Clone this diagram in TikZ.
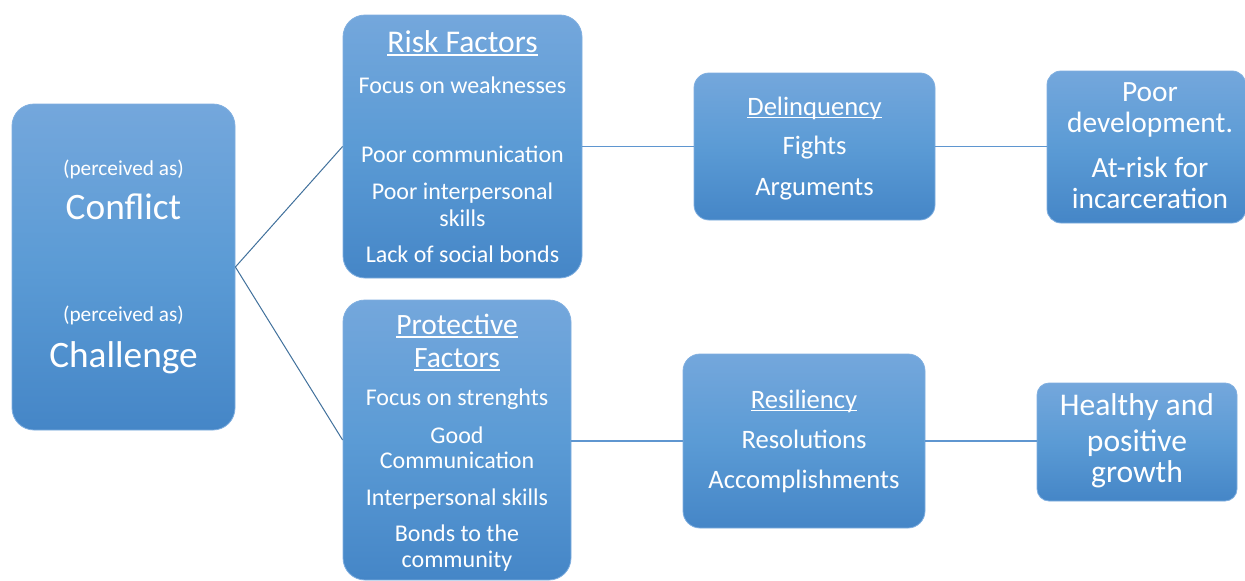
\documentclass[tikz,border=0pt]{standalone}
\usepackage{fontspec}
\setmainfont{Carlito}
\definecolor{btop}{RGB}{116,167,220}
\definecolor{bmid}{RGB}{91,155,213}
\definecolor{bbot}{RGB}{69,134,199}
\definecolor{bedge}{RGB}{128,175,224}
\definecolor{ldiag}{RGB}{65,113,156}
\definecolor{lhor}{RGB}{95,150,208}
\newcommand\myul[1]{\setbox0\hbox{#1}\rlap{\rule[-0.13em]{\wd0}{0.06em}}\box0}
\newcommand\fsz[1]{\fontsize{#1}{#1}\selectfont}
\begin{document}
\begin{tikzpicture}[x=1pt,y=-1pt,
  sbox/.style={rectangle, rounded corners=#1, draw=bedge, line width=0.8pt,
    top color=btop, bottom color=bbot, middle color=bmid, inner sep=0pt},
  txt/.style={text=white, inner sep=0pt, anchor=base},
  diag/.style={draw=ldiag, line width=1pt},
  hor/.style={draw=lhor, line width=1.4pt}]
\useasboundingbox (0,0) rectangle (1245,581);
\clip (0,0) rectangle (1245,581);
\fill[white] (0,0) rectangle (1245,581);

% boxes
\node[sbox=22, minimum width=223, minimum height=326] (conf) at (123.5,267) {};
\node[sbox=22, minimum width=239, minimum height=263] (risk) at (462.5,146.5) {};
\node[sbox=22, minimum width=228, minimum height=280] (prot) at (457,440) {};
\node[sbox=15, minimum width=241, minimum height=147] (delq) at (814.5,146.5) {};
\node[sbox=14, minimum width=199, minimum height=152] (poor) at (1146.5,147) {};
\node[sbox=17, minimum width=242, minimum height=174] (resi) at (804,441) {};
\node[sbox=12, minimum width=200, minimum height=118] (heal) at (1137,442) {};

% connectors
\draw[diag] (conf.east) -- (risk.west);
\draw[diag] (conf.east) -- (prot.west);
\draw[hor] (risk.east) -- (delq.west);
\draw[hor] (delq.east) -- (delq.east -| poor.west);
\draw[hor] (prot.east |- resi.west) -- (resi.west);
\draw[hor] (resi.east) -- (resi.east -| heal.west);

% conflict box text
\node[txt, font=\fsz{21.3}] (c1) at (123.5,175) {(perceived as)};
\node[txt, font=\fsz{37.3}] (c2) at (123.5,219) {Conflict};
\node[txt, font=\fsz{21.3}] (c3) at (123.5,321) {(perceived as)};
\node[txt, font=\fsz{37.3}] (c4) at (123.5,367) {Challenge};

% risk factors
\node[txt, font=\fsz{31.6}] (r0) at (462.5,52) {\myul{Risk Factors}};
\node[txt, font=\fsz{24}] (r1) at (462.5,93) {Focus on weaknesses};
\node[txt, font=\fsz{24}] (r2) at (462.5,162) {Poor communication};
\node[txt, font=\fsz{24}] (r3) at (462.5,199) {Poor interpersonal};
\node[txt, font=\fsz{24}] (r4) at (462.5,226) {skills};
\node[txt, font=\fsz{24}] (r5) at (462.5,262) {Lack of social bonds};

% protective factors
\node[txt, font=\fsz{29.5}] (p0) at (457,334) {\myul{Protective}};
\node[txt, font=\fsz{29.5}] (p1) at (457,367) {\myul{Factors}};
\node[txt, font=\fsz{24}] (p2) at (457,405) {Focus on strenghts};
\node[txt, font=\fsz{24}] (p3) at (457,443) {Good};
\node[txt, font=\fsz{24}] (p4) at (457,468) {Communication};
\node[txt, font=\fsz{24}] (p5) at (457,505) {Interpersonal skills};
\node[txt, font=\fsz{24}] (p6) at (457,541) {Bonds to the};
\node[txt, font=\fsz{24}] (p7) at (457,567) {community};

% delinquency
\node[txt, font=\fsz{26.6}] (d0) at (814.5,115) {\myul{Delinquency}};
\node[txt, font=\fsz{26.6}] (d1) at (814.5,154) {Fights};
\node[txt, font=\fsz{26.6}] (d2) at (814.5,195) {Arguments};

% poor development
\node[txt, font=\fsz{29.4}] (o0) at (1150,101) {Poor};
\node[txt, font=\fsz{29.4}] (o1) at (1150,132) {development.};
\node[txt, font=\fsz{29.4}] (o2) at (1150,177) {At-risk for};
\node[txt, font=\fsz{29.4}] (o3) at (1150,208) {incarceration};

% resiliency
\node[txt, font=\fsz{26.6}] (s0) at (804,408) {\myul{Resiliency}};
\node[txt, font=\fsz{26.6}] (s1) at (804,448) {Resolutions};
\node[txt, font=\fsz{26.6}] (s2) at (804,488) {Accomplishments};

% healthy
\node[txt, font=\fsz{31.6}] (h0) at (1137,415) {Healthy and};
\node[txt, font=\fsz{31.6}] (h1) at (1137,451) {positive};
\node[txt, font=\fsz{31.6}] (h2) at (1137,482) {growth};
\end{tikzpicture}
\end{document}
